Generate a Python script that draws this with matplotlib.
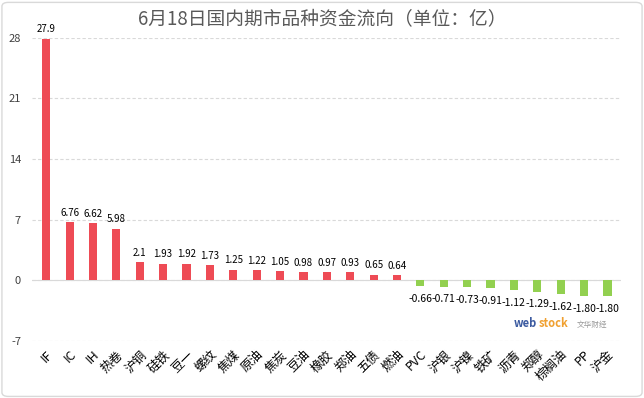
import matplotlib.pyplot as plt
from matplotlib.patches import FancyBboxPatch

plt.rcParams['font.family'] = ['Noto Sans CJK SC', 'DejaVu Sans']

品种 = ["IF", "IC", "IH", "热卷", "沪铜", "硅铁", "豆一", "螺纹", "焦煤", "原油",
      "焦炭", "豆油", "橡胶", "郑油", "五债", "燃油", "PVC", "沪银", "沪镍", "铁矿",
      "沥青", "郑醇", "棕榈油", "PP", "沪金"]
资金 = [27.9, 6.76, 6.62, 5.98, 2.1, 1.93, 1.92, 1.73, 1.25, 1.22,
      1.05, 0.98, 0.97, 0.93, 0.65, 0.64, -0.66, -0.71, -0.73, -0.91,
      -1.12, -1.29, -1.62, -1.80, -1.80]
标签 = ["27.9", "6.76", "6.62", "5.98", "2.1", "1.93", "1.92", "1.73", "1.25", "1.22",
      "1.05", "0.98", "0.97", "0.93", "0.65", "0.64", "-0.66", "-0.71", "-0.73", "-0.91",
      "-1.12", "-1.29", "-1.62", "-1.80", "-1.80"]
y刻度 = [-7, 0, 7, 14, 21, 28]

fig = plt.figure(figsize=(6.44, 3.98), dpi=100)
fig.patches.append(FancyBboxPatch((0.003, 0.004), 0.994, 0.99, boxstyle="round,pad=0,rounding_size=0.01",
                                  transform=fig.transFigure, fill=False, ec="#d9d9d9", lw=1))
ax = fig.add_axes([0.05, 0.143, 0.915, 0.762])

x = range(len(品种))
颜色 = ["#ee4b55" if v >= 0 else "#92d050" for v in 资金]
ax.bar(x, 资金, width=0.35, color=颜色, zorder=3)

for i, v in enumerate(资金):
    if v >= 0:
        ax.text(i, v + 0.5, 标签[i], ha="center", va="bottom", fontsize=7, color="black")
    else:
        ax.text(i, v - 0.9, 标签[i], ha="center", va="top", fontsize=7.5, color="black")

ax.set_ylim(-7, 28)
ax.set_xlim(-0.6, len(品种) - 0.4)
ax.set_yticks(y刻度)
ax.set_yticklabels([str(t) for t in y刻度], fontsize=8, color="#404040")
ax.grid(axis="y", color="#d9d9d9", linestyle=(0, (3, 2)), lw=0.8, zorder=0)
ax.axhline(0, color="#d9d9d9", lw=0.8, zorder=1)
ax.set_xticks(list(x))
ax.set_xticklabels(品种, rotation=45, ha="right", rotation_mode="anchor", fontsize=9)
ax.tick_params(axis="x", length=0, pad=5)
ax.tick_params(axis="y", length=0, pad=8)
for s in ax.spines.values():
    s.set_visible(False)

fig.text(0.5, 0.953, "6月18日国内期市品种资金流向（单位：亿）", ha="center", va="center",
         fontsize=13.5, color="#595959")

# 水印
ax.text(20.0, -5.0, "web", fontsize=8, color="#3b5aa0", fontweight="bold", ha="left", va="center")
ax.text(21.05, -5.0, "stock", fontsize=8, color="#f0a030", fontweight="bold", ha="left", va="center")
ax.text(22.7, -5.1, "文华财经", fontsize=5.5, color="#999999", ha="left", va="center")

plt.savefig("out.png", dpi=100)
plt.close()
